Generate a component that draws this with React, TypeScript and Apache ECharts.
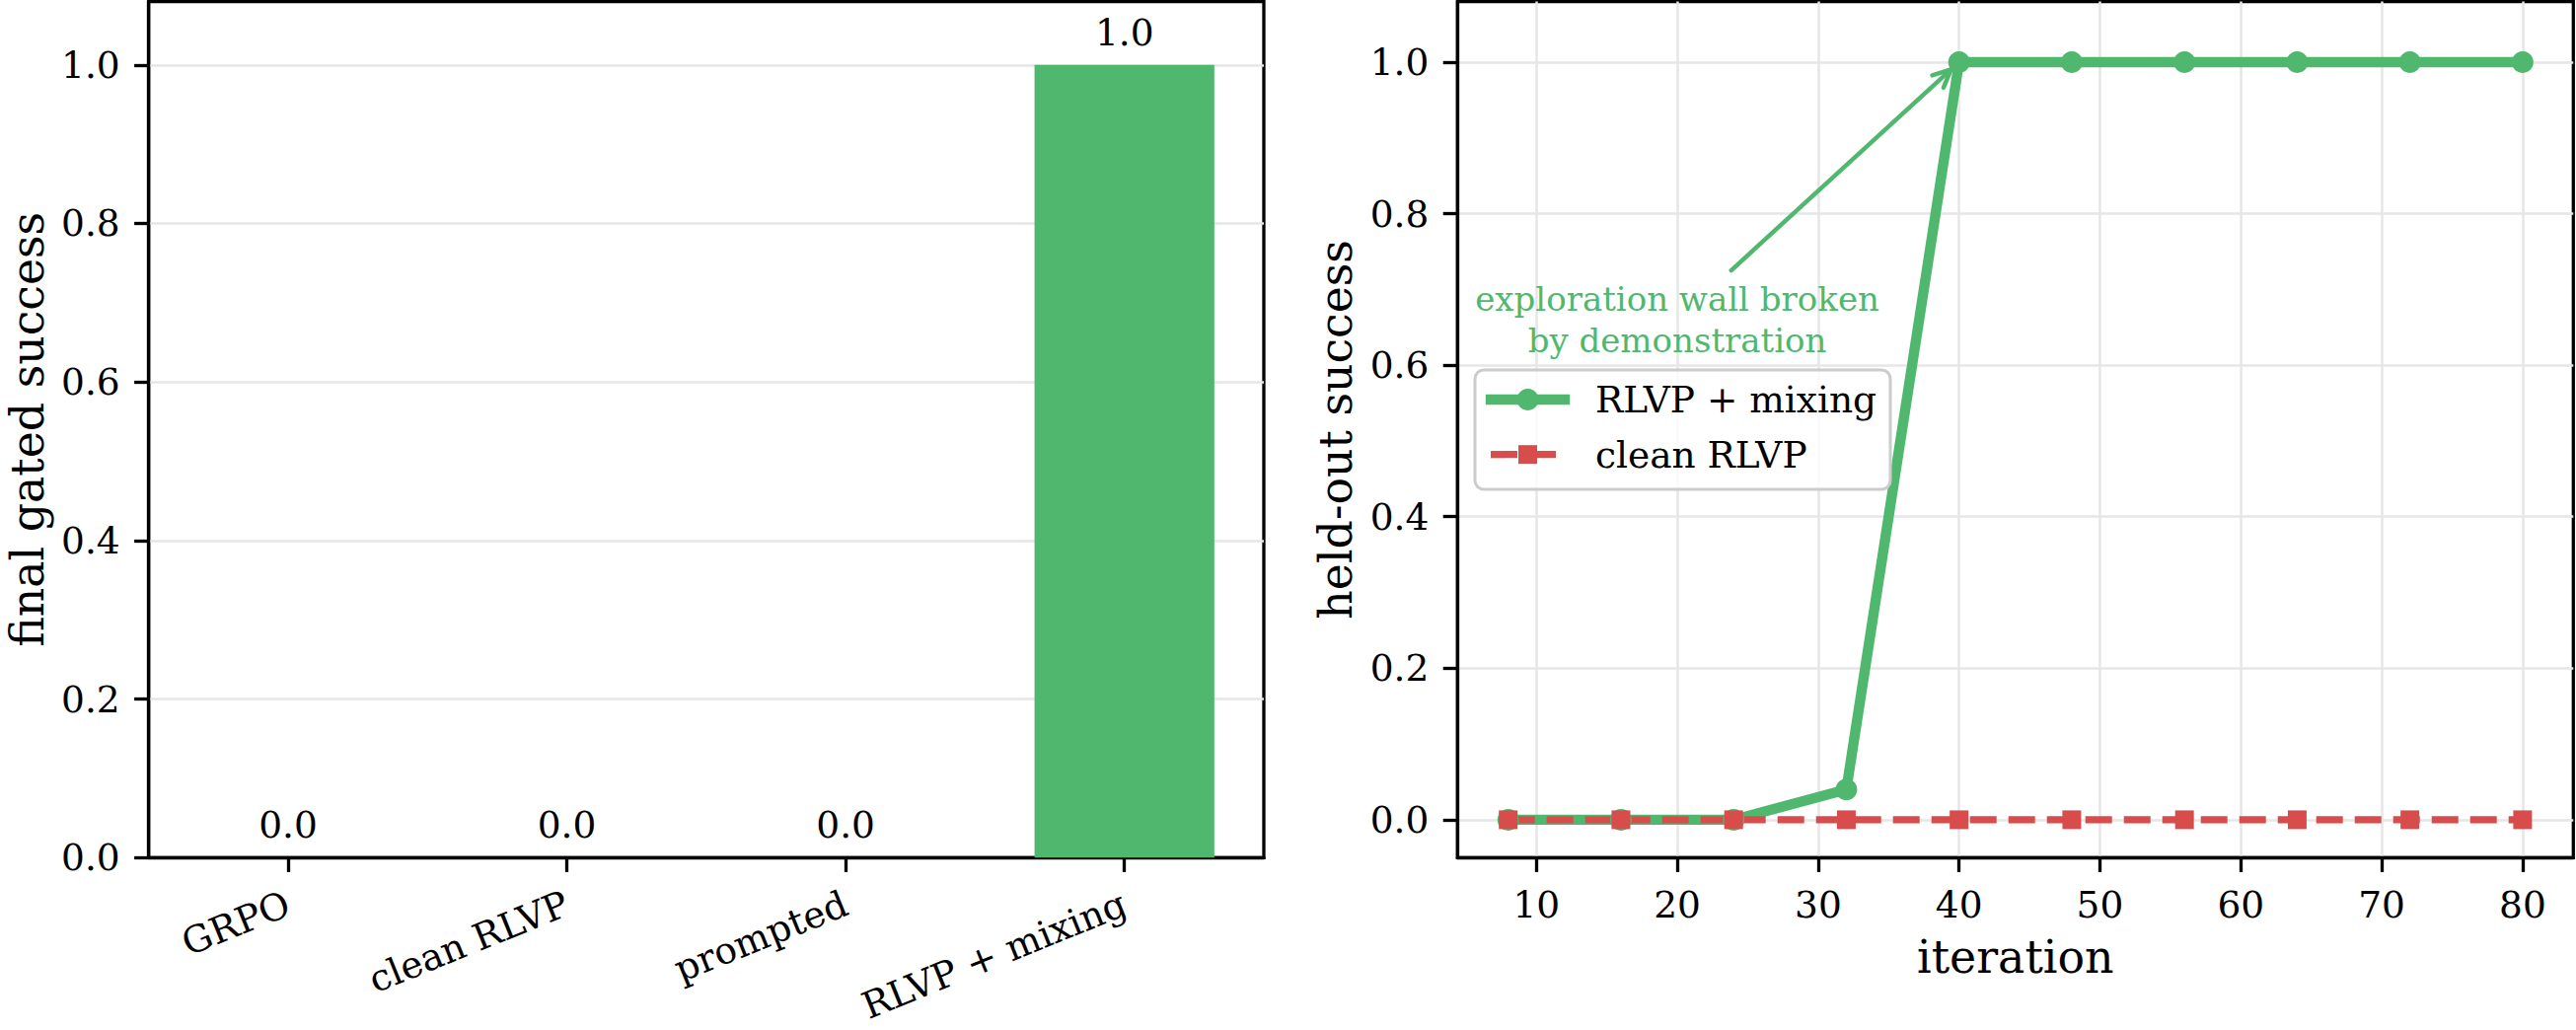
import React, { useEffect, useRef } from "react";
import * as echarts from "echarts";

// Left panel: final gated success per method
const METHODS = ["GRPO", "clean RLVP", "prompted", "RLVP + mixing"];
const FINAL_SUCCESS = [0.0, 0.0, 0.0, 1.0];

// Right panel: held-out success over training iterations
const ITERATIONS = [8, 16, 24, 32, 40, 48, 56, 64, 72, 80];
const MIXING_SUCCESS = [0.0, 0.0, 0.0, 0.04, 1.0, 1.0, 1.0, 1.0, 1.0, 1.0];
const CLEAN_SUCCESS = [0.0, 0.0, 0.0, 0.0, 0.0, 0.0, 0.0, 0.0, 0.0, 0.0];
const SERIES_NAMES = ["RLVP + mixing", "clean RLVP"];

const Y_TICKS = [0.0, 0.2, 0.4, 0.6, 0.8, 1.0];
const X_TICKS = [10, 20, 30, 40, 50, 60, 70, 80];

const ANNOTATION_LINES = ["exploration wall broken", "by demonstration"];
const ANNOTATION_TEXT_AT = [20, 0.66];
const ANNOTATION_TARGET = [40, 1.0];

const GREEN = "#50b86e";
const RED = "#d94c4c";
const FONT = "DejaVu Serif";
const TICK_FONT = 37.5;
const LABEL_FONT = 45.8;
const GRID_LINE = { show: true, lineStyle: { color: "#e6e6e6", width: 2.5 } };
const SPINE = 3.3;

const tickLabel = {
  fontFamily: FONT,
  fontSize: TICK_FONT,
  color: "#000",
  margin: 29,
};
const axisTick = { show: true, length: 14.6, lineStyle: { color: "#000", width: SPINE } };
const axisLine = { show: true, onZero: false, lineStyle: { color: "#000", width: SPINE } };
const nameStyle = { fontFamily: FONT, fontSize: LABEL_FONT, color: "#000" };

function buildOption() {
  return {
    animation: false,
    backgroundColor: "#fff",
    grid: [
      { left: 150.7, top: 1.5, width: 1130.3, height: 867.8, show: true, borderColor: "#000", borderWidth: SPINE, backgroundColor: "transparent" },
      { left: 1477.3, top: 1.5, width: 1131, height: 867.8, show: true, borderColor: "#000", borderWidth: SPINE, backgroundColor: "transparent" },
    ],
    xAxis: [
      {
        type: "category",
        gridIndex: 0,
        data: METHODS,
        axisLine,
        axisTick: { ...axisTick, alignWithLabel: true, interval: 0 },
        axisLabel: { ...tickLabel, rotate: 22, margin: 45, interval: 0 },
        splitLine: { show: false },
      },
      {
        type: "value",
        gridIndex: 1,
        min: 4.4,
        max: 83.6,
        splitNumber: 8,
        minInterval: 10,
        maxInterval: 10,
        axisLine,
        axisTick: { ...axisTick, customValues: X_TICKS },
        axisLabel: { ...tickLabel, customValues: X_TICKS },
        splitLine: GRID_LINE,
        name: "iteration",
        nameLocation: "middle",
        nameGap: 78,
        nameTextStyle: nameStyle,
      },
    ],
    yAxis: [
      {
        type: "value",
        gridIndex: 0,
        min: 0,
        max: 1.08,
        interval: 0.2,
        axisLine,
        axisTick: { ...axisTick, customValues: Y_TICKS },
        axisLabel: {
          ...tickLabel,
          customValues: Y_TICKS,
          formatter: (v: number) => v.toFixed(1),
        },
        splitLine: GRID_LINE,
        name: "final gated success",
        nameLocation: "middle",
        nameGap: 100,
        nameTextStyle: nameStyle,
      },
      {
        type: "value",
        gridIndex: 1,
        min: -0.05,
        max: 1.08,
        minInterval: 0.2,
        maxInterval: 0.2,
        axisLine,
        axisTick: { ...axisTick, customValues: Y_TICKS },
        axisLabel: {
          ...tickLabel,
          customValues: Y_TICKS,
          formatter: (v: number) => v.toFixed(1),
        },
        splitLine: GRID_LINE,
        name: "held-out success",
        nameLocation: "middle",
        nameGap: 100,
        nameTextStyle: nameStyle,
      },
    ],
    series: [
      {
        type: "bar",
        xAxisIndex: 0,
        yAxisIndex: 0,
        data: FINAL_SUCCESS,
        barWidth: "64.5%",
        itemStyle: { color: GREEN },
        label: {
          show: true,
          position: "top",
          distance: 14,
          fontFamily: FONT,
          fontSize: TICK_FONT,
          color: "#000",
          formatter: (p: any) => Number(p.value).toFixed(1),
        },
      },
      {
        type: "line",
        name: SERIES_NAMES[0],
        xAxisIndex: 1,
        yAxisIndex: 1,
        data: ITERATIONS.map((x, i) => [x, MIXING_SUCCESS[i]]),
        symbol: "circle",
        symbolSize: 22,
        itemStyle: { color: GREEN },
        lineStyle: { color: GREEN, width: 10.4, cap: "square", join: "round" },
      },
      {
        type: "line",
        name: SERIES_NAMES[1],
        xAxisIndex: 1,
        yAxisIndex: 1,
        data: ITERATIONS.map((x, i) => [x, CLEAN_SUCCESS[i]]),
        symbol: "rect",
        symbolSize: 19,
        itemStyle: { color: RED },
        lineStyle: { color: RED, width: 7.3, type: [27, 12], cap: "butt", join: "round" },
      },
    ],
  };
}

// Annotation arrow and legend box drawn on top of the right panel
function buildOverlay(chart: any) {
  const finder = { xAxisIndex: 1, yAxisIndex: 1 };
  const c = chart.convertToPixel(finder, ANNOTATION_TEXT_AT);
  const p = chart.convertToPixel(finder, ANNOTATION_TARGET);
  const dx = p[0] - c[0];
  const dy = p[1] - c[1];
  const len = Math.hypot(dx, dy);
  const ux = dx / len;
  const uy = dy / len;
  // arrow leaves the text block at its top edge
  const startOffset = 50 / Math.abs(uy);
  const sx = c[0] + ux * startOffset;
  const sy = c[1] + uy * startOffset;
  const tx = p[0] - ux * 11;
  const ty = p[1] - uy * 11;
  const headLen = 20;
  const ang = (25 * Math.PI) / 180;
  const bx = -ux;
  const by = -uy;
  const w1 = [tx + headLen * (bx * Math.cos(ang) - by * Math.sin(ang)), ty + headLen * (bx * Math.sin(ang) + by * Math.cos(ang))];
  const w2 = [tx + headLen * (bx * Math.cos(-ang) - by * Math.sin(-ang)), ty + headLen * (bx * Math.sin(-ang) + by * Math.cos(-ang))];

  const legendX = 1495;
  const legendY = 375;
  const row1 = 405;
  const row2 = 460.7;

  return [
    {
      type: "text",
      x: c[0],
      y: c[1],
      z: 20,
      style: {
        text: ANNOTATION_LINES.join("\n"),
        fill: GREEN,
        fontSize: 34,
        fontFamily: FONT,
        lineHeight: 42,
        align: "center",
        verticalAlign: "middle",
      },
    },
    {
      type: "line",
      z: 20,
      shape: { x1: sx, y1: sy, x2: tx, y2: ty },
      style: { stroke: GREEN, lineWidth: 4.5, lineCap: "round" },
    },
    {
      type: "polyline",
      z: 20,
      shape: { points: [w1, [tx, ty], w2] },
      style: { stroke: GREEN, lineWidth: 4.5, fill: null, lineCap: "round", lineJoin: "miter" },
    },
    {
      type: "rect",
      z: 30,
      shape: { x: legendX, y: legendY, width: 421, height: 121, r: 9 },
      style: { fill: "rgba(255,255,255,0.8)", stroke: "#cccccc", lineWidth: 3 },
    },
    {
      type: "line",
      z: 31,
      shape: { x1: 1511, y1: row1, x2: 1586, y2: row1 },
      style: { stroke: GREEN, lineWidth: 10.4, lineCap: "square" },
    },
    {
      type: "circle",
      z: 32,
      shape: { cx: 1548.5, cy: row1, r: 11 },
      style: { fill: GREEN },
    },
    {
      type: "line",
      z: 31,
      shape: { x1: 1511, y1: row2, x2: 1586, y2: row2 },
      style: { stroke: RED, lineWidth: 7.3, lineDash: [27, 12] },
    },
    {
      type: "rect",
      z: 32,
      shape: { x: 1548.5 - 9.5, y: row2 - 9.5, width: 19, height: 19 },
      style: { fill: RED },
    },
    {
      type: "text",
      z: 33,
      x: 1617,
      y: row1,
      style: { text: SERIES_NAMES[0], fill: "#000", fontSize: TICK_FONT, fontFamily: FONT, verticalAlign: "middle", align: "left" },
    },
    {
      type: "text",
      z: 33,
      x: 1617,
      y: row2,
      style: { text: SERIES_NAMES[1], fill: "#000", fontSize: TICK_FONT, fontFamily: FONT, verticalAlign: "middle", align: "left" },
    },
  ];
}

export default function App() {
  const ref = useRef<HTMLDivElement>(null);
  useEffect(() => {
    const el = ref.current;
    if (!el) return;
    const chart = echarts.init(el, null, { renderer: "svg" });
    chart.setOption(buildOption() as any);
    chart.setOption({ graphic: buildOverlay(chart) } as any);
    return () => chart.dispose();
  }, []);
  return (
    <div
      ref={ref}
      style={{ position: "absolute", left: 0, top: 0, width: 2611, height: 1044, background: "#fff" }}
    />
  );
}
